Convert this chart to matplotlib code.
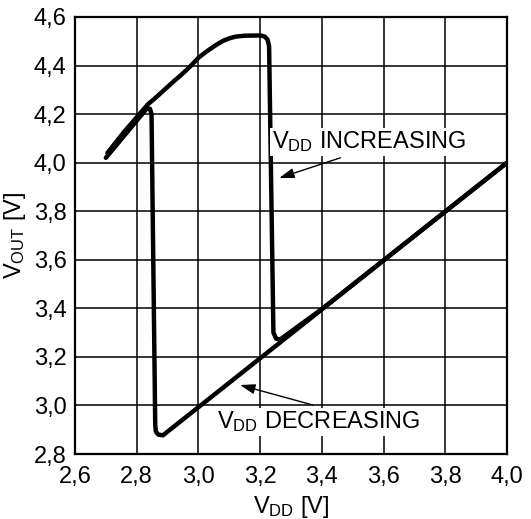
import matplotlib
matplotlib.use("Agg")
import matplotlib.pyplot as plt

plt.rcParams['font.family'] = ['Liberation Sans', 'DejaVu Sans']
plt.rcParams['mathtext.fontset'] = 'custom'
plt.rcParams['mathtext.rm'] = 'Liberation Sans'
plt.rcParams['mathtext.it'] = 'Liberation Sans'

# V_DD increasing branch
inc_x = [2.705, 2.76, 2.836, 2.86, 2.88, 2.90, 2.92, 2.94, 2.96, 2.98, 3.00, 3.02, 3.04, 3.06, 3.08,
         3.10, 3.12, 3.15, 3.20, 3.214, 3.224, 3.229, 3.243, 3.252, 3.265, 3.40, 3.60, 4.00]
inc_y = [4.040, 4.128, 4.240, 4.266, 4.289, 4.312, 4.335, 4.357, 4.38, 4.405, 4.432, 4.452, 4.47, 4.487, 4.502,
         4.512, 4.519, 4.523, 4.524, 4.52, 4.507, 4.48, 3.30, 3.275, 3.272, 3.397, 3.598, 4.00]

# V_DD decreasing branch
dec_x = [4.00, 2.885, 2.870, 2.862, 2.860, 2.848, 2.843, 2.832, 2.70]
dec_y = [4.00, 2.877, 2.880, 2.892, 2.92, 4.20, 4.222, 4.222, 4.020]

xticks = [2.6, 2.8, 3.0, 3.2, 3.4, 3.6, 3.8, 4.0]
yticks = [2.8, 3.0, 3.2, 3.4, 3.6, 3.8, 4.0, 4.2, 4.4, 4.6]

FS = 17

fig = plt.figure(figsize=(5.31, 5.19), dpi=100)
ax = fig.add_axes([75/531, 1-454/519, 432/531, 437/519])

ax.plot(inc_x, inc_y, color='black', lw=3.2, solid_joinstyle='round', solid_capstyle='round', zorder=3)
ax.plot(dec_x, dec_y, color='black', lw=3.2, solid_joinstyle='round', solid_capstyle='round', zorder=3)

ax.set_xlim(2.6, 4.0)
ax.set_ylim(2.8, 4.6)
ax.set_xticks(xticks)
ax.set_yticks(yticks)
ax.set_xticklabels([f"{v:.1f}".replace('.', ',') for v in xticks])
ax.set_yticklabels([f"{v:.1f}".replace('.', ',') for v in yticks])
ax.tick_params(length=0, labelsize=FS, colors='black')
ax.tick_params(axis='x', pad=9)
ax.tick_params(axis='y', pad=6)
ax.grid(True, color='black', lw=1.1)
for s in ax.spines.values():
    s.set_linewidth(1.6)
    s.set_color('black')

ax.set_xlabel(r'$\mathregular{V_{DD}}$ [V]', fontsize=FS, labelpad=4)
ax.set_ylabel(r'$\mathregular{V_{OUT}}$ [V]', fontsize=FS, labelpad=4)

# annotations
ax.text(3.238, 4.085, r'$\mathregular{V_{DD}}$ INCREASING', fontsize=FS, va='center', ha='left',
        bbox=dict(facecolor='white', edgecolor='none', pad=1))
ax.annotate('', xy=(3.262, 3.937), xytext=(3.46, 4.02),
            arrowprops=dict(arrowstyle='-|>,head_length=0.9,head_width=0.3', color='black', lw=1.0,
                            shrinkA=0, shrinkB=0))
ax.text(3.06, 2.932, r'$\mathregular{V_{DD}}$ DECREASING', fontsize=FS, va='center', ha='left',
        bbox=dict(facecolor='white', edgecolor='none', pad=1))
ax.annotate('', xy=(3.135, 3.084), xytext=(3.37, 3.002),
            arrowprops=dict(arrowstyle='-|>,head_length=0.9,head_width=0.3', color='black', lw=1.0,
                            shrinkA=0, shrinkB=0))

fig.savefig('out.png', dpi=100)
